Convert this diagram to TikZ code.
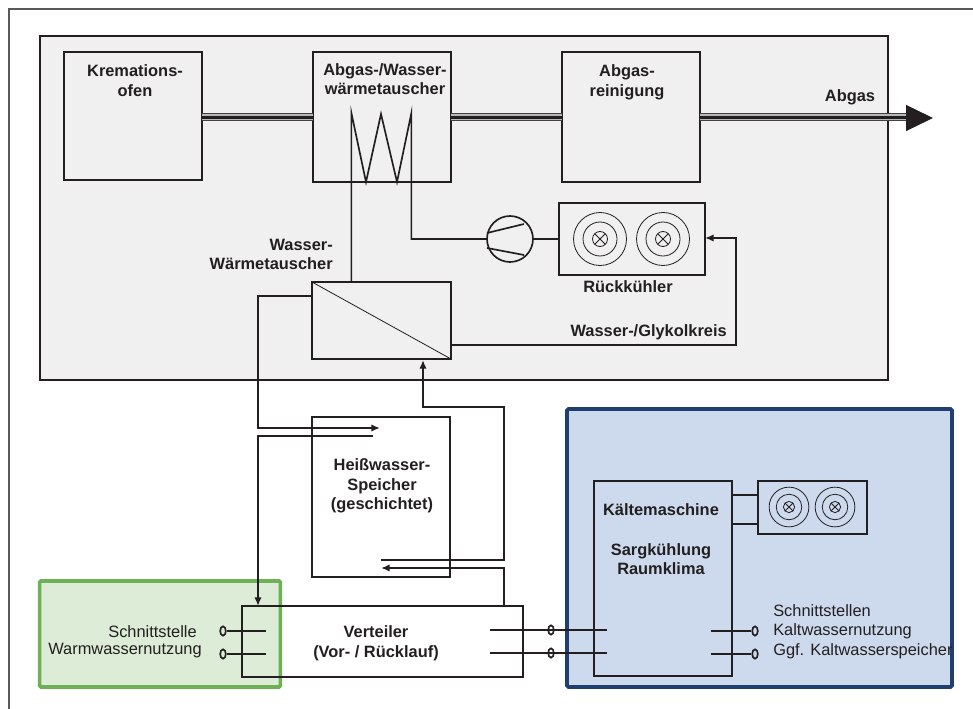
\documentclass[tikz,border=0pt]{standalone}
\usepackage{fontspec}
\setmainfont{Liberation Sans}
\usetikzlibrary{arrows.meta,shapes.geometric}
\definecolor{ink}{HTML}{231F20}
\definecolor{panelgray}{HTML}{F0F0F0}
\definecolor{greenfill}{HTML}{DCECD6}
\definecolor{greenline}{HTML}{6DB056}
\definecolor{bluefill}{HTML}{CDDAED}
\definecolor{blueline}{HTML}{1F3F70}
\tikzset{
  pipe/.style={draw=ink,line width=1.25pt},
  flow/.style={pipe,-{Latex[length=6.5pt,width=5.5pt]}},
  thinline/.style={draw=ink,line width=.6pt},
  gasband/.style={draw=black!28,line width=5.6pt},
  gascore/.style={draw=ink,line width=2pt},
  gasedge/.style={draw=ink!85,line width=.9pt},
  box/.style={draw=ink,line width=1.25pt,rectangle,inner sep=0pt,outer sep=0pt},
  title/.style={text=ink,inner sep=0pt,align=center,font=\fontsize{12.3}{14.7}\selectfont\bfseries},
  plain/.style={text=ink,inner sep=0pt,align=left,font=\fontsize{12.3}{14.7}\selectfont},
  terminal/.style={ellipse,draw=ink,line width=1.25pt,inner sep=0pt,minimum width=4.2pt,minimum height=7pt},
  fan/.pic={
    \draw[thinline] (0,0) circle (26.5);
    \draw[thinline] (0,0) circle (17);
    \draw[thinline] (0,0) circle (7.5);
    \draw[thinline] (-5.3,-5.3) -- (5.3,5.3);
    \draw[thinline] (-5.3,5.3) -- (5.3,-5.3);
  }
}

\begin{document}
\begin{tikzpicture}[x=.75pt,y=-.75pt]
\useasboundingbox (0,0) rectangle (973,709);

\draw[draw=black!65,line width=.9pt] (973,9) -- (9,9) -- (9,709);

\node[box,line width=1.6pt,fill=panelgray,minimum width=636pt,minimum height=258pt] (panel) at (464,208) {};
\node[rectangle,draw=greenline,line width=2.7pt,fill=greenfill,rounded corners=1pt,minimum width=180.5pt,minimum height=79.5pt] (greenpanel) at (160,634) {};
\node[rectangle,draw=blueline,line width=2.7pt,fill=bluefill,rounded corners=1pt,minimum width=288.75pt,minimum height=208.5pt] (bluepanel) at (759.5,548) {};

\node[box,minimum width=103.5pt,minimum height=96pt] (ofen) at (133,116) {};
\node[box,minimum width=103.5pt,minimum height=97.5pt] (abgaswt) at (382,117) {};
\node[box,minimum width=103.5pt,minimum height=97.5pt] (reinigung) at (631,117) {};
\node[box,minimum width=109.5pt,minimum height=54pt] (kuehler) at (632,239) {};
\node[box,minimum width=104.25pt,minimum height=57.75pt] (wwt) at (381.5,320.5) {};
\node[box,minimum width=103.5pt,minimum height=120pt] (speicher) at (381,497) {};
\node[box,minimum width=210.75pt,minimum height=53.25pt] (verteiler) at (382.5,641.5) {};
\node[box,minimum width=103.5pt,minimum height=146.25pt] (kaelte) at (663,578.5) {};
\node[box,minimum width=81.75pt,minimum height=39.75pt] (kuehler2) at (812.5,507.5) {};
\node[circle,draw=ink,line width=1.25pt,inner sep=0pt,outer sep=0pt,minimum size=34.5pt] (verdichter) at (510,239) {};

\node[title] (tofen) at (135,80.5) {Kremations-\\ofen};
\node[title] (tabgaswt) at (385,79) {Abgas-/Wasser-\\wärmetauscher};
\node[title] (treinigung) at (627,82.5) {Abgas-\\reinigung};
\node[title] (tabgas) at (850,97) {Abgas};
\node[title,align=right,anchor=east] (twwt) at (333,254.5) {Wasser-\\Wärmetauscher};
\node[title] (tkuehler) at (628,287) {Rückkühler};
\node[title,anchor=east] (tkreis) at (727,332) {Wasser-/Glykolkreis};
\node[title] (tspeicher) at (382,486) {Heißwasser-\\Speicher\\(geschichtet)};
\node[title] (tverteiler) at (376,643) {Verteiler\\(Vor- / Rücklauf)};
\node[title] (tkaelte) at (661,510) {Kältemaschine};
\node[title] (tsarg) at (661,559) {Sargkühlung\\Raumklima};
\node[plain,anchor=east] (tww1) at (197,632) {Schnittstelle};
\node[plain,anchor=east] (tww2) at (202,651) {Warmwassernutzung};
\node[plain,anchor=west] (tkw) at (773,631.5) {Schnittstellen\\Kaltwassernutzung\\Ggf. Kaltwasserspeicher};

\coordinate (gas) at (0,117);
\coordinate (gasstop) at (908,117);
\coordinate (gasend) at (933,118);
\foreach \a/\b in {ofen.east/abgaswt.west,abgaswt.east/reinigung.west,reinigung.east/gasstop} {
  \draw[gasband] (\a |- gas) -- (\b |- gas);
  \draw[gasedge] (\a |- 0,113.3) -- (\b |- 0,113.3);
  \draw[gasedge] (\a |- 0,120.7) -- (\b |- 0,120.7);
  \draw[gascore] (\a |- 0,117.4) -- (\b |- 0,117.4);
}
\draw[draw=ink,line width=.9pt,-{Triangle[length=20.25pt,width=19.5pt]}] (reinigung.east |- gasend) -- (gasend);

\coordinate (zz1) at (351.4,113);
\coordinate (zz2) at (411.4,113);
\draw[pipe] (wwt.north -| zz1) -- (zz1) -- (366,182) -- (381,114) -- (397,182) -- (zz2) |- (verdichter.west);
\draw[pipe] (verdichter.east) -- (kuehler.west);
\draw[pipe] (487,233) -- (524,224);
\draw[pipe] (487,248) -- (524,255);
\draw[thinline] (wwt.north west) -- (wwt.south east);

\coordinate (krin) at (736,238);
\draw[flow] (wwt.east |- 0,345) -| (krin) -- (kuehler.east |- krin);

\coordinate (sp1) at (380,428);
\coordinate (sp2) at (373,436);
\coordinate (sp3) at (381,560);
\coordinate (sp4) at (381,568);
\draw[flow] (wwt.west |- 0,296) -| (258,428) -- (sp1);
\draw[flow] (sp2) -| (258,606);
\draw[flow] (sp3) -| (504,407) -| (423,360);
\draw[flow] (verteiler.north -| 504,0) |- (sp4);

\node[terminal] (wwa) at (223,631) {};
\node[terminal] (wwb) at (223,654) {};
\coordinate (wwa1) at (266,631);
\coordinate (wwb1) at (266,654);
\draw[pipe] (wwa) -- (wwa1);
\draw[pipe] (wwb) -- (wwb1);

\coordinate (va1) at (490,630);
\coordinate (va2) at (607,630);
\coordinate (vb1) at (490,653);
\coordinate (vb2) at (607,653);
\draw[pipe] (va1) -- (va2);
\draw[pipe] (vb1) -- (vb2);
\node[terminal] (vta) at (551,630) {};
\node[terminal] (vtb) at (551,653) {};

\node[terminal] (kwa) at (755,631) {};
\node[terminal] (kwb) at (755,654) {};
\coordinate (kwa1) at (711,631);
\coordinate (kwb1) at (711,654);
\draw[pipe] (kwa1) -- (kwa);
\draw[pipe] (kwb1) -- (kwb);

\draw[pipe] (kaelte.east |- 0,495) -- (kuehler2.west |- 0,495);
\draw[pipe] (kaelte.east |- 0,524) -- (kuehler2.west |- 0,524);

\pic at (600,239) {fan};
\pic at (663,239) {fan};
\pic[scale=.75] at (789,507) {fan};
\pic[scale=.75] at (835,507) {fan};
\end{tikzpicture}
\end{document}
